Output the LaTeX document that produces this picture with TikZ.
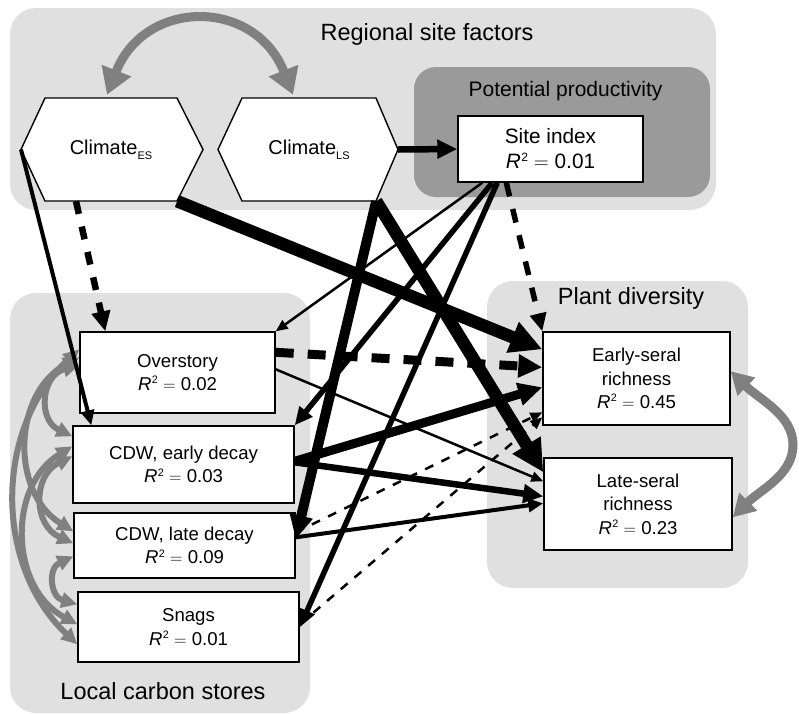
\documentclass[tikz,border=0pt]{standalone}
\usepackage{fontspec}
\setmainfont{Liberation Sans}
\usetikzlibrary{arrows.meta,calc}
\definecolor{bglight}{RGB}{224,224,224}
\definecolor{bgdark}{RGB}{154,154,154}
\definecolor{covgrey}{RGB}{128,128,128}
\newcommand{\myrsq}[1]{\textit{R}\kern0.5pt\raisebox{0.36em}{\fontsize{0.58em}{0.6em}\selectfont 2}\hspace{0.28em}$=$\hspace{0.28em}#1}
\newcommand{\mysubs}[1]{\raisebox{-5pt}{\fontsize{11}{11}\selectfont #1}}
\begin{document}
\begin{tikzpicture}[x=1pt,y=1pt,
  ttl/.style={font=\fontsize{23.5}{26}\selectfont, inner sep=0pt},
  ttlsmall/.style={font=\fontsize{21}{24}\selectfont, inner sep=0pt},
  box/.style={draw=black, line width=1.4pt, fill=white, align=center, inner sep=0pt,
    font=\fontsize{18.6}{23.5}\selectfont},
  hexs/.style={draw=black, line width=1.4pt, fill=white},
  hextxt/.style={minimum height=103pt, inner sep=0pt, font=\fontsize{20}{24}\selectfont},
  a1/.style={line width=2.5pt, -{Triangle[length=12pt,width=10pt]}},
  a2/.style={line width=4pt, -{Triangle[length=15pt,width=13pt]}},
  a3/.style={line width=5.5pt, -{Triangle[length=18pt,width=16pt]}},
  a4/.style={line width=6.5pt, -{Triangle[length=20pt,width=18pt]}},
  a5/.style={line width=9pt, -{Triangle[length=24pt,width=22pt]}},
  a6/.style={line width=10pt, -{Triangle[length=24pt,width=22pt]}},
  a7/.style={line width=12.5pt, -{Triangle[length=32pt,width=31pt]}},
  cov/.style={draw=covgrey, line width=6pt,
    {Triangle[length=16pt,width=15pt]}-{Triangle[length=16pt,width=15pt]}},
  covbig/.style={draw=covgrey, line width=9pt,
    {Triangle[length=26pt,width=30pt]}-{Triangle[length=26pt,width=30pt]}},
  covmid/.style={draw=covgrey, line width=9pt,
    {Triangle[length=22pt,width=24pt]}-{Triangle[length=22pt,width=24pt]}}
]
\useasboundingbox (0,0) rectangle (799,-713);

% group backgrounds
\fill[bglight, rounded corners=26pt] (10,-8) rectangle (716,-210);
\fill[bgdark, rounded corners=22pt] (414,-67) rectangle (710,-197);
\fill[bglight, rounded corners=26pt] (10,-293) rectangle (310,-713);
\fill[bglight, rounded corners=26pt] (487,-281) rectangle (748,-588);

% group titles
\node[ttl, anchor=base] (tReg) at (427,-40) {Regional site factors};
\node[ttlsmall, anchor=base] (tPot) at (565.5,-96) {Potential productivity};
\node[ttl, anchor=base] (tPla) at (631,-304) {Plant diversity};
\node[ttl, anchor=base] (tLoc) at (163,-699) {Local carbon stores};

% climate hexagons
\coordinate (cesW) at (21,-149.5);
\coordinate (cesE) at (203,-149.5);
\coordinate (clsW) at (218,-149.5);
\coordinate (clsE) at (398,-149.5);
\draw[hexs] (45,-98) -- (177,-98) -- (cesE) -- (177,-201) -- (45,-201) -- (cesW) -- cycle;
\draw[hexs] (242,-98) -- (376,-98) -- (clsE) -- (376,-201) -- (242,-201) -- (clsW) -- cycle;
\node[hextxt, minimum width=132pt] (ces) at (111,-149.5) {Climate\mysubs{ES}};
\node[hextxt, minimum width=134pt] (cls) at (309,-149.5) {Climate\mysubs{LS}};

% boxes
\node[box, minimum width=185pt, minimum height=66pt, font=\fontsize{20.8}{25}\selectfont]
  (site) at (550.5,-149) {Site index\\\myrsq{0.01}};
\node[box, minimum width=195pt, minimum height=81pt] (ovs) at (177.5,-372.5) {Overstory\\\myrsq{0.02}};
\node[box, minimum width=221pt, minimum height=77pt] (cdwE) at (183.5,-464.5) {CDW, early decay\\\myrsq{0.03}};
\node[box, minimum width=221pt, minimum height=65pt] (cdwL) at (184.5,-545.5) {CDW, late decay\\\myrsq{0.09}};
\node[box, minimum width=221pt, minimum height=70pt] (snags) at (188.5,-627) {Snags\\\myrsq{0.01}};
\node[box, minimum width=187pt, minimum height=93pt] (early) at (636.5,-378.5) {Early-seral\\richness\\\myrsq{0.45}};
\node[box, minimum width=188pt, minimum height=92pt] (late) at (638,-504) {Late-seral\\richness\\\myrsq{0.23}};

% covariances
\draw[covbig] ([xshift=-4pt,yshift=3pt]ces.north) .. controls (145,2) and (255,2) .. ([xshift=-16pt,yshift=3pt]cls.north);
\draw[covmid] ([yshift=-40pt]early.north east) .. controls (760,-400) and (793,-415) .. (793,-445)
  .. controls (793,-475) and (760,-490) .. ([yshift=-60pt]late.north east);
\draw[cov] ([yshift=-18pt]ovs.north west) to[bend right=47] ([yshift=-53pt]snags.north west);
\draw[cov] ([yshift=-26pt]ovs.north west) to[bend right=60, looseness=1.1] ([yshift=-19pt]cdwL.north west);
\draw[cov] ([yshift=-34pt]ovs.north west) to[bend right=70, looseness=1.4] ([yshift=-11pt]cdwE.north west);
\draw[cov] ([yshift=-21pt]cdwE.north west) to[bend right=60, looseness=1.1] ([yshift=-33pt]snags.north west);
\draw[cov] ([yshift=-31pt]cdwE.north west) to[bend right=65, looseness=1.3] ([yshift=-31pt]cdwL.north west);
\draw[cov] ([yshift=-44pt]cdwL.north west) to[bend right=70, looseness=1.5] ([yshift=-13pt]snags.north west);

% paths
\draw[a2] (cesW) -- ([xshift=19pt]cdwE.north west);
\draw[a4, dash pattern=on 13pt off 13pt] ([xshift=-35pt]ces.south) -- ([xshift=26pt]ovs.north west);
\draw[a7] (ces.south east) -- ([yshift=-18pt]early.north west);
\draw[a4] (clsE) -- (site.west);
\draw[a6] (cls.south east) -- ([yshift=-27pt]cdwL.north east);
\draw[a7] (cls.south east) -- ([yshift=-15pt]late.north west);
\draw[a1] ([xshift=25pt]site.south west) -- (ovs.north east);
\draw[a3] ([xshift=35pt]site.south west) -- (cdwE.north east);
\draw[a3] ([xshift=40pt]site.south west) -- ([yshift=-36pt]snags.north east);
\draw[a3, dash pattern=on 14pt off 13pt] ([xshift=49pt]site.south west) -- (early.north west);
\draw[a5, dash pattern=on 18pt off 14pt] ([yshift=-21pt]ovs.north east) -- ([yshift=-36pt]early.north west);
\draw[a1] ([yshift=-38pt]ovs.north east) -- ([yshift=-24pt]late.north west);
\draw[a5] ([yshift=-36pt]cdwE.north east) -- ([yshift=-56pt]early.north west);
\draw[a4] ([yshift=-37pt]cdwE.north east) -- ([yshift=-39pt]late.north west);
\draw[a2] ([yshift=-25pt]cdwL.north east) -- ([yshift=-46pt]late.north west);
\draw[a1, dash pattern=on 9pt off 9pt] ([yshift=-20pt]cdwL.north east) -- ([yshift=-81pt]early.north west);
\draw[a1, dash pattern=on 9pt off 9pt] ([yshift=-33pt]snags.north east) -- ([yshift=-86pt]early.north west);
\end{tikzpicture}
\end{document}
